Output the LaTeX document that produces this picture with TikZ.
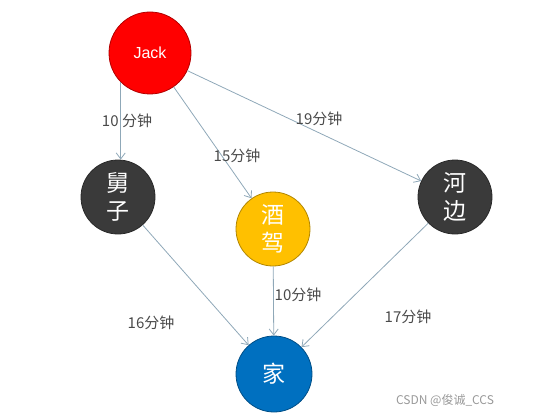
\documentclass[tikz,border=0pt]{standalone}
\usepackage{fontspec}
\setmainfont{Liberation Sans}
\newfontfamily\cjk{Noto Sans CJK SC}
\usetikzlibrary{arrows.meta}
\definecolor{edgec}{HTML}{8FA8B8}
\definecolor{labc}{HTML}{4A4A4A}
\definecolor{darkc}{HTML}{3A3A3A}
\definecolor{goldc}{HTML}{FFC000}
\definecolor{bluec}{HTML}{0070C0}
\begin{document}
\begin{tikzpicture}[x=1pt,y=-1pt,
  place/.style={circle,draw=#1!70!black,line width=0.8pt,inner sep=0pt,text=white,align=center},
  conn/.style={draw=edgec,line width=0.8pt,-{Straight Barb[length=6pt,width=9pt]}},
  lab/.style={text=labc,font=\cjk\fontsize{15}{17}\selectfont,inner sep=1pt}]
\useasboundingbox (0,0) rectangle (535,417);
\node[place=red,fill=red,minimum size=82pt,font=\fontsize{16}{18}\selectfont] (jack) at (150,53) {Jack};
\node[place=darkc,fill=darkc,minimum size=74pt,font=\cjk\fontsize{23}{28}\selectfont] (jz) at (118,197) {舅\\子};
\node[place=goldc,fill=goldc,minimum size=74pt,font=\cjk\fontsize{23}{28}\selectfont] (jj) at (273,229) {酒\\驾};
\node[place=darkc,fill=darkc,minimum size=74pt,font=\cjk\fontsize{23}{28}\selectfont] (hb) at (455,197) {河\\边};
\node[place=bluec,fill=bluec,minimum size=76pt,font=\cjk\fontsize{23}{28}\selectfont] (home) at (274,374) {家};
\draw[conn] (jack.225) -- (jz.north -| jack.225) coordinate (jzt);
\draw[conn] (jack) -- (jj);
\draw[conn] (jack) -- (hb);
\draw[conn] (jz) -- (home);
\draw[conn] (jj) -- (home);
\draw[conn] (hb) -- (home);
\node[lab] (l1) at (127,121) {10 分钟};
\node[lab] (l2) at (237,156) {15分钟};
\node[lab] (l3) at (319,119) {19分钟};
\node[lab] (l4) at (151,323) {16分钟};
\node[lab] (l5) at (298,295) {10分钟};
\node[lab] (l6) at (408,317) {17分钟};
\node[text=gray!80,font=\cjk\fontsize{12}{14}\selectfont,inner sep=0pt] (wm) at (445,400) {CSDN @俊诚\_CCS};
\end{tikzpicture}
\end{document}
